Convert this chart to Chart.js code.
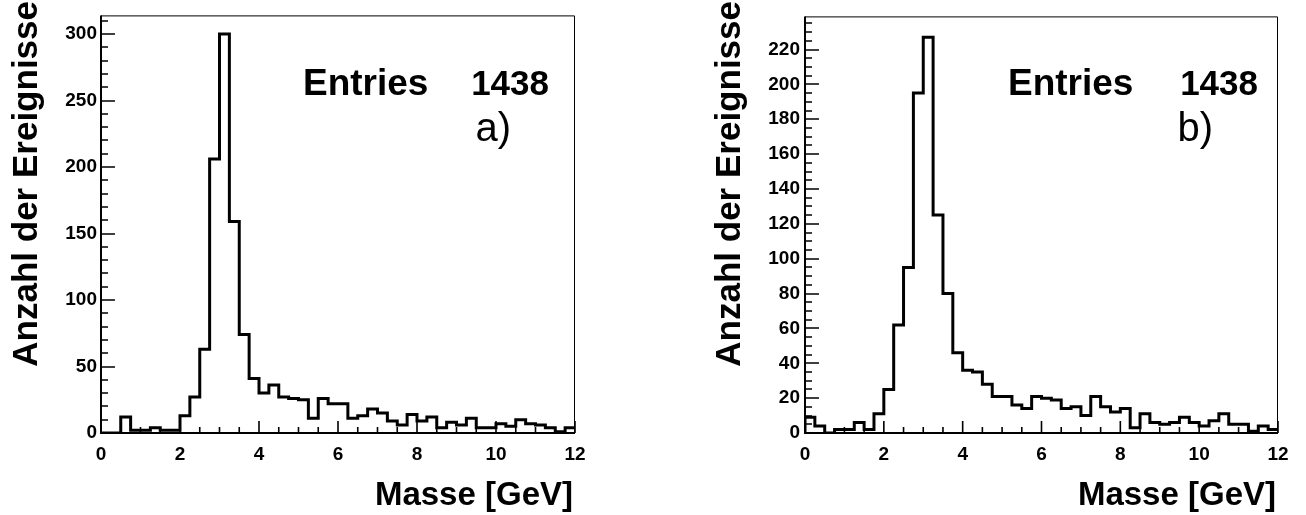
<!DOCTYPE html>
<html><head><meta charset="utf-8">
<script src="https://cdn.jsdelivr.net/npm/chart.js@4/dist/chart.umd.min.js"></script>
<style>
html,body{margin:0;padding:0;background:#fff;overflow:hidden}
#wrap{position:relative;width:1306px;height:515px;background:#fff}
.pane{position:absolute;top:0;width:653px;height:515px}
</style></head><body>
<div id="wrap">
<div class="pane" style="left:0"><canvas id="ca" width="653" height="515"></canvas></div>
<div class="pane" style="left:653px"><canvas id="cb" width="653" height="515"></canvas></div>
</div>
<script>
// ---- data ----
const binLowEdges = [0,0.25,0.5,0.75,1,1.25,1.5,1.75,2,2.25,2.5,2.75,3,3.25,3.5,3.75,
  4,4.25,4.5,4.75,5,5.25,5.5,5.75,6,6.25,6.5,6.75,7,7.25,7.5,7.75,
  8,8.25,8.5,8.75,9,9.25,9.5,9.75,10,10.25,10.5,10.75,11,11.25,11.5,11.75];
const binUpperEnd = 12;
const countsA = [0,0,12,2,2,4,2,2,13,27,63,206,300,159,74,41,30,36,27,26,25,11,26,22,
  22,11,13,18,15,9,6,14,9,12,4,8,6,11,4,4,7,5,10,7,6,4,1,4];
const countsB = [9,4,0,2,2,6,2,11,25,62,95,195,227,125,80,46,36,35,28,21,21,16,14,21,
  20,19,14,15,10,21,15,12,14,3,11,6,5,6,9,6,4,7,11,5,5,1,4,2];
const xTickLabels = ['0','2','4','6','8','10','12'];
const yTickLabelsA = ['0','50','100','150','200','250','300'];
const yTickLabelsB = ['0','20','40','60','80','100','120','140','160','180','200','220'];
const yTitle = 'Anzahl der Ereignisse';
const xTitle = 'Masse [GeV]';
const entriesLabel = 'Entries';
const entriesValue = '1438';
const panelTags = ['a)', 'b)'];

// histogram outline: one point per bin upper edge; with stepped 'after'
// the value of each point is held across its bin [low edge, upper edge]
function stepPoints(counts) {
  const pts = [{x: binLowEdges[0], y: 0}];
  binLowEdges.forEach((x, i) => {
    const xEnd = i + 1 < binLowEdges.length ? binLowEdges[i + 1] : binUpperEnd;
    pts.push({x: xEnd, y: counts[i]});
  });
  return pts;
}

const FONT = '"Liberation Sans", Arial, Helvetica, sans-serif';

function makeChart(id, counts, yTicks, yMax, yMinorStep, tag, cfg) {
  const decor = {
    id: 'decor' + id,
    afterDatasetsDraw(chart) {
      const ctx = chart.ctx;
      const ca = chart.chartArea;
      const xs = chart.scales.x, ys = chart.scales.y;
      ctx.save();
      ctx.strokeStyle = '#000';
      ctx.lineCap = 'butt';
      // top/right frame
      ctx.lineWidth = 1;
      ctx.beginPath();
      ctx.moveTo(ca.left, ca.top + 0.5); ctx.lineTo(ca.right - 0.5, ca.top + 0.5);
      ctx.lineTo(ca.right - 0.5, ca.bottom);
      ctx.stroke();
      // axes
      ctx.lineWidth = 2;
      ctx.beginPath();
      ctx.moveTo(ca.left, ca.top); ctx.lineTo(ca.left, ca.bottom + 1);
      ctx.moveTo(ca.left - 1, ca.bottom); ctx.lineTo(ca.right, ca.bottom);
      ctx.stroke();
      // ticks (inward)
      ctx.lineWidth = 1.6;
      ctx.beginPath();
      for (let v = 0; v <= yMax + 1e-6; v += yMinorStep) {
        const y = Math.round(ys.getPixelForValue(v));
        const major = yTicks.includes(String(v));
        ctx.moveTo(ca.left, y); ctx.lineTo(ca.left + (major ? 14 : 7), y);
      }
      for (let v = 0; v <= 12 + 1e-6; v += 0.5) {
        const x = xs.getPixelForValue(v);
        const major = xTickLabels.includes(String(v));
        ctx.moveTo(x, ca.bottom); ctx.lineTo(x, ca.bottom - (major ? 12 : 6));
      }
      ctx.stroke();
      // titles
      ctx.fillStyle = '#000';
      ctx.font = 'bold 33px ' + FONT;
      ctx.textAlign = 'right';
      ctx.textBaseline = 'alphabetic';
      ctx.fillText(xTitle, ca.right - 2, 505);
      ctx.save();
      ctx.translate(cfg.yTitleX, 1);
      ctx.rotate(-Math.PI / 2);
      ctx.font = 'bold 35px ' + FONT;
      ctx.textAlign = 'right';
      ctx.fillText(yTitle, 0, 0);
      ctx.restore();
      // stats text
      ctx.font = 'bold 37px ' + FONT;
      ctx.textAlign = 'left';
      ctx.fillText(entriesLabel, ca.left + cfg.entX, 95);
      ctx.font = 'bold 35px ' + FONT;
      ctx.textAlign = 'right';
      ctx.fillText(entriesValue, ca.left + cfg.valX, 95);
      ctx.font = '40px ' + FONT;
      ctx.fillText(tag, ca.left + cfg.tagX, 141);
      ctx.restore();
    }
  };
  return new Chart(document.getElementById(id), {
    type: 'line',
    data: {datasets: [{
      data: stepPoints(counts),
      stepped: 'after',
      borderColor: '#000',
      borderWidth: 3,
      pointRadius: 0,
      fill: false,
      tension: 0
    }]},
    options: {
      responsive: false,
      animation: false,
      devicePixelRatio: 1,
      layout: {padding: {left: 0, right: cfg.padRight, top: 4, bottom: 0}},
      plugins: {legend: {display: false}, tooltip: {enabled: false}},
      scales: {
        x: {
          type: 'linear', min: 0, max: 12,
          grid: {display: false, drawTicks: false},
          border: {display: false},
          afterFit: s => { s.height = 82; },
          afterBuildTicks: s => { s.ticks = xTickLabels.map(l => ({value: parseFloat(l)})); },
          ticks: {
            padding: 10, color: '#000', maxRotation: 0, autoSkip: false,
            font: {family: FONT, size: 19, weight: 'bold'},
            callback: (v) => xTickLabels.find(l => parseFloat(l) === v)
          }
        },
        y: {
          type: 'linear', min: 0, max: yMax,
          grid: {display: false, drawTicks: false},
          border: {display: false},
          afterFit: s => { s.width = cfg.plotLeft; },
          afterBuildTicks: s => { s.ticks = yTicks.map(l => ({value: parseFloat(l)})); },
          ticks: {
            padding: cfg.yPad, color: '#000', autoSkip: false,
            font: {family: FONT, size: 19, weight: 'bold'},
            callback: (v) => yTicks.find(l => parseFloat(l) === v)
          }
        }
      }
    },
    plugins: [decor]
  });
}

makeChart('ca', countsA, yTickLabelsA, 314, 10, panelTags[0],
  {plotLeft: 101, padRight: 78, yPad: 4, yTitleX: 37, entX: 202, valX: 448, tagX: 410});
makeChart('cb', countsB, yTickLabelsB, 239, 5, panelTags[1],
  {plotLeft: 152, padRight: 28, yPad: 5, yTitleX: 87, entX: 203, valX: 453, tagX: 408});
</script>
</body></html>
